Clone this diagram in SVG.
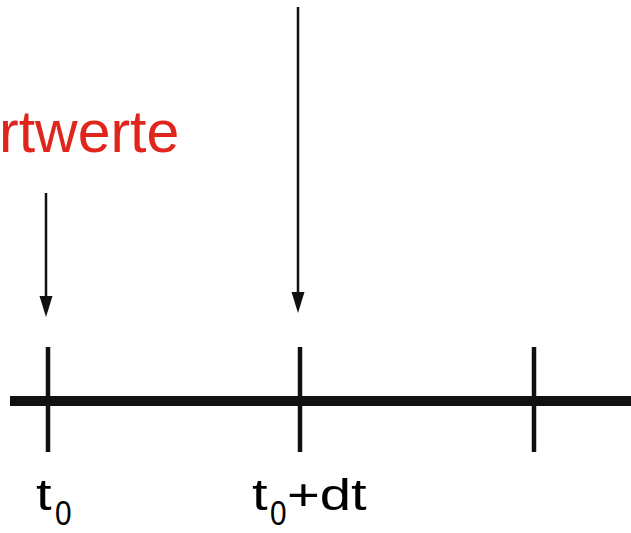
<svg xmlns="http://www.w3.org/2000/svg" width="631" height="533" viewBox="0 0 631 533">
<style>
.lbl{font-family:"Liberation Sans",Arial,sans-serif;fill:#000}
.red{font-family:"Liberation Sans",Arial,sans-serif;fill:#e0261c}
.tick{stroke:#111;stroke-width:4.5}
.arr{stroke:#111;stroke-width:2.5;fill:none}
.head{fill:#111}
</style>
<rect width="631" height="533" fill="#fff"/>
<g id="axis">
<line x1="10" y1="401" x2="631" y2="401" stroke="#111" stroke-width="10"/>
</g>
<g id="tick1"><line class="tick" x1="48" y1="347" x2="48" y2="452"/></g>
<g id="tick2"><line class="tick" x1="300" y1="347" x2="300" y2="452"/></g>
<g id="tick3"><line class="tick" x1="534" y1="347" x2="534" y2="452"/></g>
<g id="connectors">
<line class="arr" x1="46" y1="193" x2="46" y2="298"/>
<path class="head" d="M39.5,296 L52.5,296 L46,317 Z"/>
<line class="arr" x1="298" y1="7" x2="298" y2="294"/>
<path class="head" d="M291.5,292 L304.5,292 L298,313 Z"/>
</g>
<g id="label-start"><text class="red" x="-1" y="152" font-size="59">rtwerte</text></g>
<g id="label-t0">
<text class="lbl" transform="translate(36,510) scale(1.25,1)" font-size="45">t</text>
<text class="lbl" transform="translate(55,525) scale(0.85,1)" font-size="35">0</text>
</g>
<g id="label-t0dt">
<text class="lbl" transform="translate(252,510) scale(1.25,1)" font-size="45">t</text>
<text class="lbl" transform="translate(270,525) scale(0.85,1)" font-size="35">0</text>
<text class="lbl" transform="translate(287,510) scale(1.25,1)" font-size="45">+dt</text>
</g>
</svg>
